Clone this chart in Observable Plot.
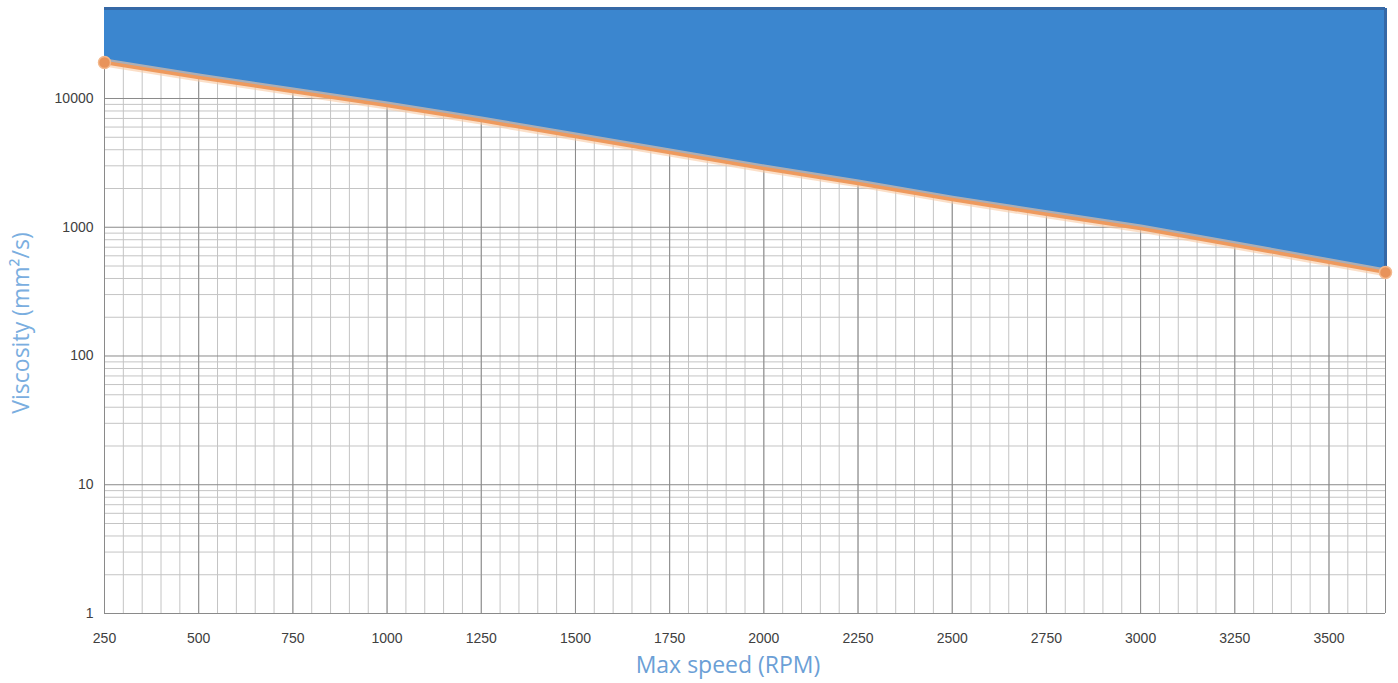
<!DOCTYPE html>
<html><head><meta charset="utf-8">
<script src="https://cdn.jsdelivr.net/npm/d3@7"></script>
<script src="https://cdn.jsdelivr.net/npm/@observablehq/plot@0.6"></script>
<style>body{margin:0;background:#fff}</style>
</head><body><div id="chart"></div>
<script>
const rpm = [250, 500, 750, 1000, 1250, 1500, 1750, 2000, 2250, 2500, 2750, 3000, 3250, 3500, 3650];
const viscosity = [19050, 14560, 11330, 8830, 6740, 5070, 3810, 2860, 2190, 1640, 1260, 978, 725, 535, 446];
const xTicks = [250, 500, 750, 1000, 1250, 1500, 1750, 2000, 2250, 2500, 2750, 3000, 3250, 3500];
const yTicks = [1, 10, 100, 1000, 10000];
const xLabel = "Max speed (RPM)";
const yLabel = "Viscosity (mm²/s)";
const xDomain = [250, 3650];
const yDomain = [1, 50000];

const data = rpm.map((r, i) => ({rpm: r, v: viscosity[i]}));
const xMinor = d3.range(xDomain[0], xDomain[1] + 1, 50);
const yMinor = [];
for (const d of yTicks) for (let k = 2; k <= 9; k++) if (d * k <= yDomain[1]) yMinor.push(d * k);
const ends = [data[0], data[data.length - 1]];

const chart = Plot.plot({
  width: 1398,
  height: 683,
  marginLeft: 104,
  marginRight: 13,
  marginTop: 8,
  marginBottom: 70,
  style: {fontFamily: "Liberation Sans, Arial, sans-serif", fontSize: "14px", color: "#404040", background: "#fff"},
  x: {type: "linear", domain: xDomain},
  y: {type: "log", domain: yDomain},
  marks: [
    Plot.ruleX(xMinor, {stroke: "#c4c4c4", strokeWidth: 1}),
    Plot.ruleY(yMinor, {stroke: "#c4c4c4", strokeWidth: 1}),
    Plot.ruleX(xTicks.concat([xDomain[1]]), {stroke: "#8a8a8a", strokeWidth: 1}),
    Plot.ruleY(yTicks, {stroke: "#8a8a8a", strokeWidth: 1}),
    Plot.areaY(data, {x: "rpm", y1: "v", y2: d => yDomain[1], fill: "#3b86cf", curve: "linear"}),
    Plot.ruleY([yDomain[1]], {stroke: "#3568a6", strokeWidth: 3}),
    Plot.ruleX([xDomain[1]], {y1: viscosity[viscosity.length - 1], y2: yDomain[1], stroke: "#3568a6", strokeWidth: 3}),
    Plot.line(data, {x: "rpm", y: "v", stroke: "#f8c9a3", strokeWidth: 8, strokeOpacity: 0.6}),
    Plot.line(data, {x: "rpm", y: "v", stroke: "#ee9a5e", strokeWidth: 3.5}),
    Plot.dot(ends, {x: "rpm", y: "v", r: 6, fill: "#e8935a", stroke: "#f3b88c", strokeWidth: 1.5}),
    Plot.axisX({ticks: xTicks, tickSize: 0, tickPadding: 20, label: null, tickFormat: d3.format("d")}),
    Plot.axisY({ticks: yTicks, tickSize: 0, tickPadding: 11, label: null, tickFormat: d3.format("d")}),
    Plot.text([xLabel], {frameAnchor: "bottom", lineAnchor: "middle", textAnchor: "middle", dx: -17, dy: 52, fontSize: 23, fill: "#6b9fd6", fontFamily: "Open Sans"}),
    Plot.text([yLabel], {frameAnchor: "left", textAnchor: "middle", lineAnchor: "middle", dx: -83, dy: 12, rotate: -90, fontSize: 23, fill: "#7aaee0", fontFamily: "Open Sans"})
  ]
});
document.getElementById("chart").append(chart);
</script>
</body></html>
